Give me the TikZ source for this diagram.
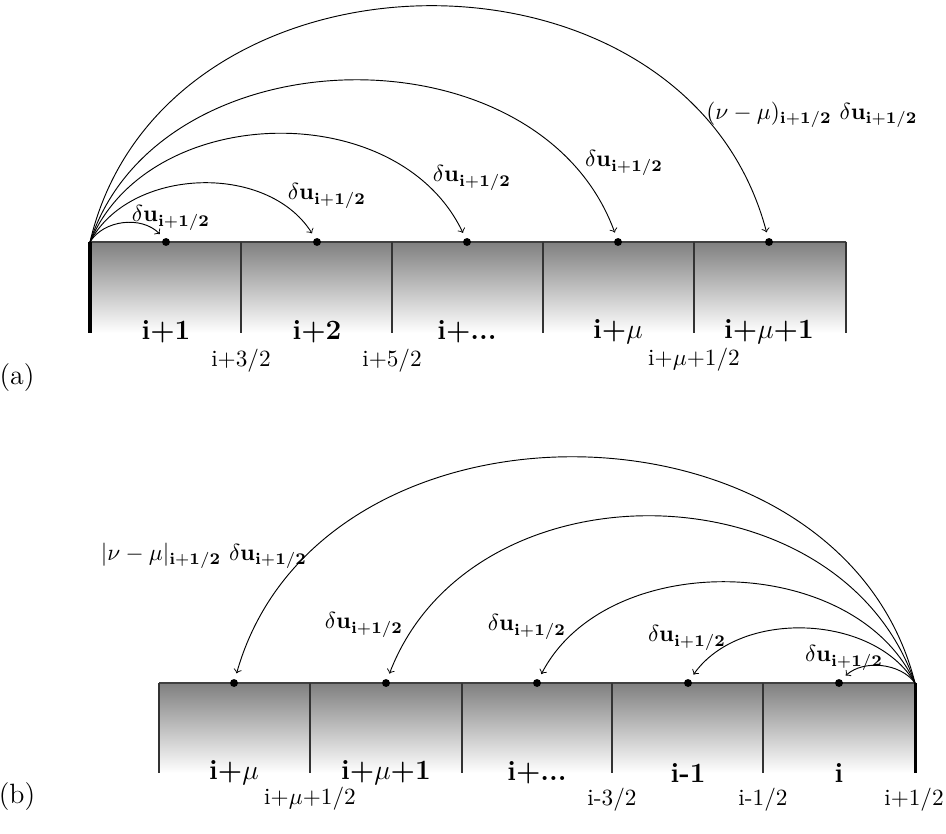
\documentclass[tikz,border=0pt]{standalone}
\usepackage{amsmath}
\begin{document}
\begin{tikzpicture}[x=0.43pt,y=0.43pt,
  cellbar/.style={top color=black!50, bottom color=white, draw=none},
  topedge/.style={draw=black!75, line width=0.8pt},
  divider/.style={draw=black!80, line width=0.45pt},
  wall/.style={draw=black, line width=1.3pt},
  dot/.style={circle, fill=black, inner sep=0pt, minimum size=3.4pt, outer sep=2.6pt},
  flux/.style={->, line width=0.4pt},
  flbl/.style={inner sep=0pt},
  cellname/.style={inner sep=0pt, font=\large\bfseries},
  facename/.style={inner sep=0pt},
  panel/.style={inner sep=0pt, font=\large}]
\useasboundingbox (0,0) rectangle (946,-834);

% ---------- panel (a): flux leaving the left face ----------
\shade[cellbar] (90,-242) rectangle (846,-333);
\draw[topedge] (90,-242) -- (846,-242);
\foreach \xx in {241,392,543,694,846}
  \draw[divider] (\xx,-242) -- (\xx,-333);
\draw[wall] (90,-242) -- (90,-333);
\coordinate (a0) at (90,-242);
\node[dot] (a1) at (166,-242) {};
\node[dot] (a2) at (317,-242) {};
\node[dot] (a3) at (467,-242) {};
\node[dot] (a4) at (618,-242) {};
\node[dot] (a5) at (769,-242) {};

\draw[flux] (a0) to[bend left=52, looseness=0.95] (a1);
\draw[flux] (a0) to[bend left=60, looseness=0.97] (a2);
\draw[flux] (a0) to[bend left=66, looseness=1.04] (a3);
\draw[flux] (a0) to[bend left=71, looseness=1.08] (a4);
\draw[flux] (a0) to[bend left=76, looseness=1.2] (a5);

\node[flbl] (la1) at (171,-218) {$\delta\mathbf{u}_{\mathbf{i+1/2}}$};
\node[flbl] (la2) at (327,-196) {$\delta\mathbf{u}_{\mathbf{i+1/2}}$};
\node[flbl] (la3) at (472,-178) {$\delta\mathbf{u}_{\mathbf{i+1/2}}$};
\node[flbl] (la4) at (624,-163) {$\delta\mathbf{u}_{\mathbf{i+1/2}}$};
\node[flbl] (la5) at (812,-115) {$(\nu-\mu)_{\mathbf{i+1/2}}\ \delta\mathbf{u}_{\mathbf{i+1/2}}$};

\node[cellname] (ca1) at (166,-332) {i+1};
\node[cellname] (ca2) at (317,-332) {i+2};
\node[cellname] (ca3) at (467,-332) {i+...};
\node[cellname] (ca4) at (618,-332) {i+$\mu$};
\node[cellname] (ca5) at (769,-332) {i+$\mu$+1};

\node[facename] (fa1) at (241,-361) {i+3/2};
\node[facename] (fa2) at (392,-361) {i+5/2};
\node[facename] (fa3) at (694,-360) {i+$\mu$+1/2};

\node[panel] (pa) at (17,-378) {(a)};

% ---------- panel (b): flux leaving the right face ----------
\shade[cellbar] (159,-683) rectangle (915,-773);
\draw[topedge] (159,-683) -- (915,-683);
\foreach \xx in {159,310,462,612,763}
  \draw[divider] (\xx,-683) -- (\xx,-773);
\draw[wall] (915,-683) -- (915,-773);
\coordinate (b0) at (915,-683);
\node[dot] (b1) at (839,-683) {};
\node[dot] (b2) at (688,-683) {};
\node[dot] (b3) at (537,-683) {};
\node[dot] (b4) at (386,-683) {};
\node[dot] (b5) at (234,-683) {};

\draw[flux] (b0) to[bend right=48, looseness=0.9] (b1);
\draw[flux] (b0) to[bend right=57, looseness=0.93] (b2);
\draw[flux] (b0) to[bend right=64, looseness=0.98] (b3);
\draw[flux] (b0) to[bend right=70, looseness=1.12] (b4);
\draw[flux] (b0) to[bend right=75, looseness=1.15] (b5);

\node[flbl] (lb1) at (844,-658) {$\delta\mathbf{u}_{\mathbf{i+1/2}}$};
\node[flbl] (lb2) at (687,-638) {$\delta\mathbf{u}_{\mathbf{i+1/2}}$};
\node[flbl] (lb3) at (527,-627) {$\delta\mathbf{u}_{\mathbf{i+1/2}}$};
\node[flbl] (lb4) at (364,-625) {$\delta\mathbf{u}_{\mathbf{i+1/2}}$};
\node[flbl] (lb5) at (204,-556) {$|\nu-\mu|_{\mathbf{i+1/2}}\ \delta\mathbf{u}_{\mathbf{i+1/2}}$};

\node[cellname] (cb1) at (839,-773) {i};
\node[cellname] (cb2) at (688,-773) {i-1};
\node[cellname] (cb3) at (537,-773) {i+...};
\node[cellname] (cb4) at (386,-773) {i+$\mu$+1};
\node[cellname] (cb5) at (234,-773) {i+$\mu$};

\node[facename] (fb1) at (914,-800) {i+1/2};
\node[facename] (fb2) at (763,-800) {i-1/2};
\node[facename] (fb3) at (612,-800) {i-3/2};
\node[facename] (fb4) at (310,-799) {i+$\mu$+1/2};

\node[panel] (pb) at (17,-797) {(b)};
\end{tikzpicture}
\end{document}
